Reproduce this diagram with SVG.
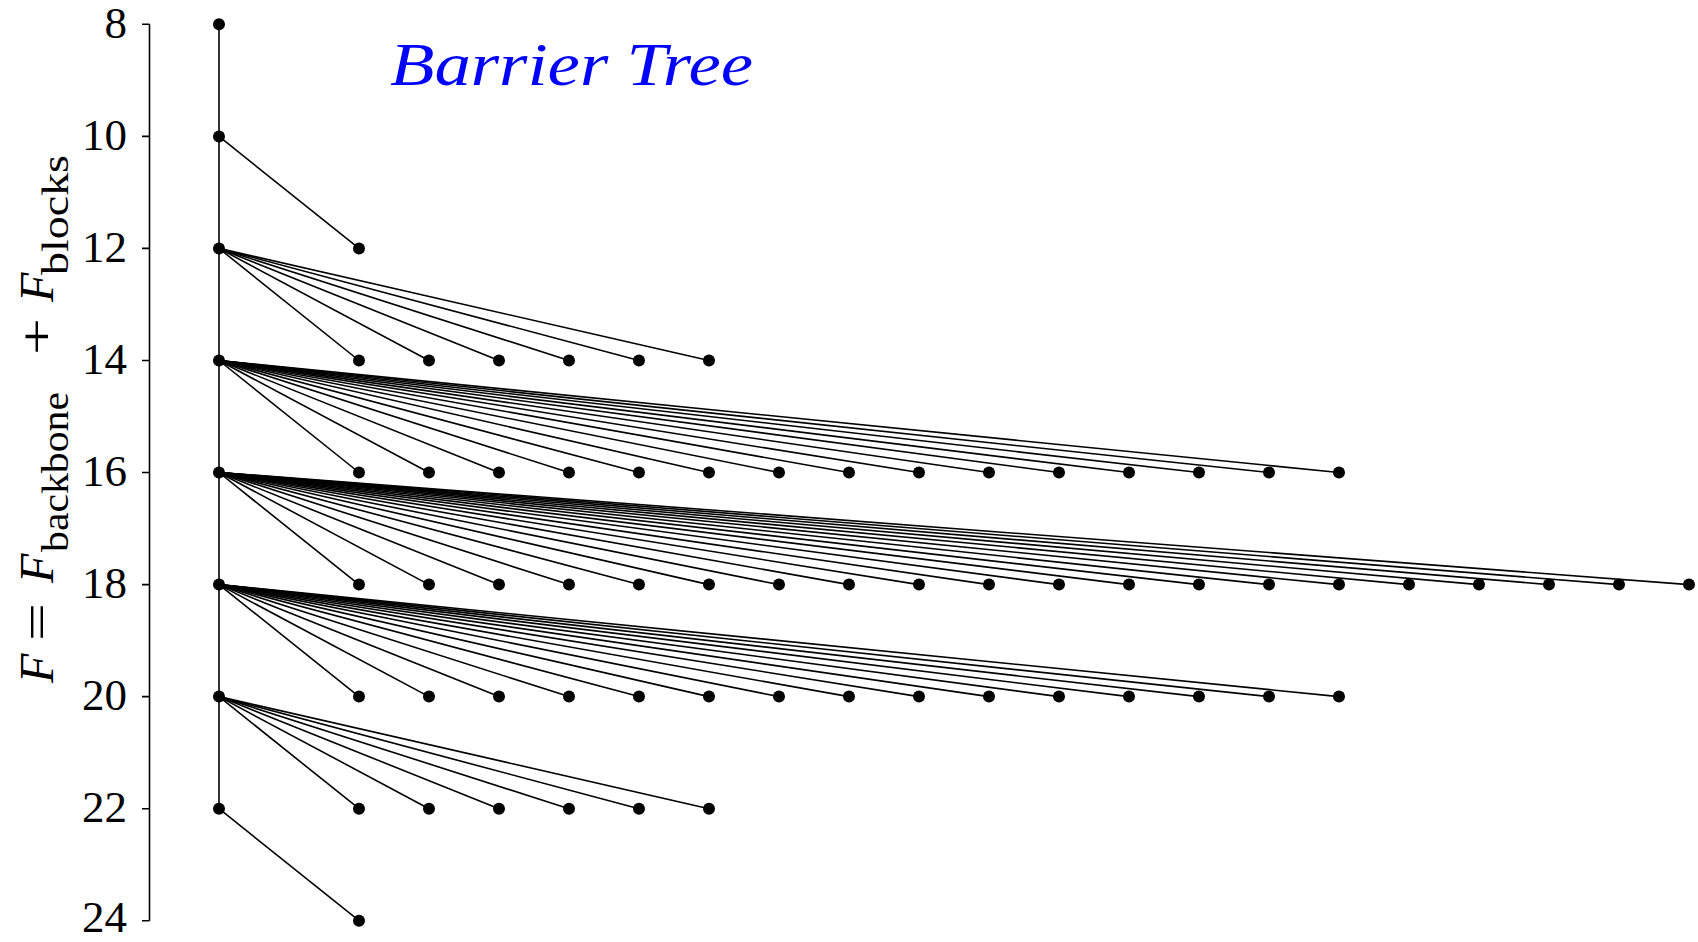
<svg xmlns="http://www.w3.org/2000/svg" width="1698" height="942" viewBox="0 0 1698 942">
<style>
.ax{stroke:#000;stroke-width:1.6;fill:none}
.e{stroke:#000;stroke-width:1.6}
.n{fill:#000}
.tk{font-family:"Liberation Serif",serif;font-size:45px;fill:#000;text-anchor:end}
.lb{font-family:"Liberation Serif",serif;font-size:48px;fill:#000}
.it{font-style:italic}
.sub{font-size:37px}
.title{font-family:"Liberation Serif",serif;font-style:italic;font-size:62px;fill:#0000ff}
</style>
<rect width="1698" height="942" fill="#fff"/>
<g id="axis">
<path class="ax" d="M149.5 24.3V920.7M142 24.3H149.5M142 136.4H149.5M142 248.4H149.5M142 360.5H149.5M142 472.5H149.5M142 584.6H149.5M142 696.6H149.5M142 808.7H149.5M142 920.7H149.5"/>
<text class="tk" x="127" y="38">8</text>
<text class="tk" x="127" y="150">10</text>
<text class="tk" x="127" y="262">12</text>
<text class="tk" x="127" y="374">14</text>
<text class="tk" x="127" y="486">16</text>
<text class="tk" x="127" y="598">18</text>
<text class="tk" x="127" y="710">20</text>
<text class="tk" x="127" y="822">22</text>
<text class="tk" x="127" y="932">24</text>
</g>
<text class="lb" transform="translate(53,683) rotate(-90)"><tspan class="it" x="0" y="0">F</tspan><tspan x="42" y="0" textLength="38" lengthAdjust="spacingAndGlyphs">=</tspan><tspan class="it" x="100" y="0">F</tspan><tspan class="sub" x="131" y="15" textLength="160" lengthAdjust="spacingAndGlyphs">backbone</tspan><tspan x="328" y="0" textLength="37" lengthAdjust="spacingAndGlyphs">+</tspan><tspan class="it" x="381" y="0">F</tspan><tspan class="sub" x="408" y="15" textLength="120" lengthAdjust="spacingAndGlyphs">blocks</tspan></text>
<text class="title" x="390" y="85" textLength="363" lengthAdjust="spacingAndGlyphs">Barrier Tree</text>
<g id="connectors">
<line class="e" x1="219" y1="24.3" x2="219" y2="808.7"/>
<line class="e" x1="219" y1="136.4" x2="359" y2="248.4"/>
<line class="e" x1="219" y1="248.4" x2="359" y2="360.5"/>
<line class="e" x1="219" y1="248.4" x2="429" y2="360.5"/>
<line class="e" x1="219" y1="248.4" x2="499" y2="360.5"/>
<line class="e" x1="219" y1="248.4" x2="569" y2="360.5"/>
<line class="e" x1="219" y1="248.4" x2="639" y2="360.5"/>
<line class="e" x1="219" y1="248.4" x2="709" y2="360.5"/>
<line class="e" x1="219" y1="360.5" x2="359" y2="472.5"/>
<line class="e" x1="219" y1="360.5" x2="429" y2="472.5"/>
<line class="e" x1="219" y1="360.5" x2="499" y2="472.5"/>
<line class="e" x1="219" y1="360.5" x2="569" y2="472.5"/>
<line class="e" x1="219" y1="360.5" x2="639" y2="472.5"/>
<line class="e" x1="219" y1="360.5" x2="709" y2="472.5"/>
<line class="e" x1="219" y1="360.5" x2="779" y2="472.5"/>
<line class="e" x1="219" y1="360.5" x2="849" y2="472.5"/>
<line class="e" x1="219" y1="360.5" x2="919" y2="472.5"/>
<line class="e" x1="219" y1="360.5" x2="989" y2="472.5"/>
<line class="e" x1="219" y1="360.5" x2="1059" y2="472.5"/>
<line class="e" x1="219" y1="360.5" x2="1129" y2="472.5"/>
<line class="e" x1="219" y1="360.5" x2="1199" y2="472.5"/>
<line class="e" x1="219" y1="360.5" x2="1269" y2="472.5"/>
<line class="e" x1="219" y1="360.5" x2="1339" y2="472.5"/>
<line class="e" x1="219" y1="472.5" x2="359" y2="584.6"/>
<line class="e" x1="219" y1="472.5" x2="429" y2="584.6"/>
<line class="e" x1="219" y1="472.5" x2="499" y2="584.6"/>
<line class="e" x1="219" y1="472.5" x2="569" y2="584.6"/>
<line class="e" x1="219" y1="472.5" x2="639" y2="584.6"/>
<line class="e" x1="219" y1="472.5" x2="709" y2="584.6"/>
<line class="e" x1="219" y1="472.5" x2="779" y2="584.6"/>
<line class="e" x1="219" y1="472.5" x2="849" y2="584.6"/>
<line class="e" x1="219" y1="472.5" x2="919" y2="584.6"/>
<line class="e" x1="219" y1="472.5" x2="989" y2="584.6"/>
<line class="e" x1="219" y1="472.5" x2="1059" y2="584.6"/>
<line class="e" x1="219" y1="472.5" x2="1129" y2="584.6"/>
<line class="e" x1="219" y1="472.5" x2="1199" y2="584.6"/>
<line class="e" x1="219" y1="472.5" x2="1269" y2="584.6"/>
<line class="e" x1="219" y1="472.5" x2="1339" y2="584.6"/>
<line class="e" x1="219" y1="472.5" x2="1409" y2="584.6"/>
<line class="e" x1="219" y1="472.5" x2="1479" y2="584.6"/>
<line class="e" x1="219" y1="472.5" x2="1549" y2="584.6"/>
<line class="e" x1="219" y1="472.5" x2="1619" y2="584.6"/>
<line class="e" x1="219" y1="472.5" x2="1689" y2="584.6"/>
<line class="e" x1="219" y1="584.6" x2="359" y2="696.6"/>
<line class="e" x1="219" y1="584.6" x2="429" y2="696.6"/>
<line class="e" x1="219" y1="584.6" x2="499" y2="696.6"/>
<line class="e" x1="219" y1="584.6" x2="569" y2="696.6"/>
<line class="e" x1="219" y1="584.6" x2="639" y2="696.6"/>
<line class="e" x1="219" y1="584.6" x2="709" y2="696.6"/>
<line class="e" x1="219" y1="584.6" x2="779" y2="696.6"/>
<line class="e" x1="219" y1="584.6" x2="849" y2="696.6"/>
<line class="e" x1="219" y1="584.6" x2="919" y2="696.6"/>
<line class="e" x1="219" y1="584.6" x2="989" y2="696.6"/>
<line class="e" x1="219" y1="584.6" x2="1059" y2="696.6"/>
<line class="e" x1="219" y1="584.6" x2="1129" y2="696.6"/>
<line class="e" x1="219" y1="584.6" x2="1199" y2="696.6"/>
<line class="e" x1="219" y1="584.6" x2="1269" y2="696.6"/>
<line class="e" x1="219" y1="584.6" x2="1339" y2="696.6"/>
<line class="e" x1="219" y1="696.6" x2="359" y2="808.7"/>
<line class="e" x1="219" y1="696.6" x2="429" y2="808.7"/>
<line class="e" x1="219" y1="696.6" x2="499" y2="808.7"/>
<line class="e" x1="219" y1="696.6" x2="569" y2="808.7"/>
<line class="e" x1="219" y1="696.6" x2="639" y2="808.7"/>
<line class="e" x1="219" y1="696.6" x2="709" y2="808.7"/>
<line class="e" x1="219" y1="808.7" x2="359" y2="920.7"/>
</g>
<g id="m8"><circle class="n" cx="219" cy="24.3" r="6"/></g>
<g id="m10"><circle class="n" cx="219" cy="136.4" r="6"/></g>
<g id="m12"><circle class="n" cx="219" cy="248.4" r="6"/></g>
<g id="m14"><circle class="n" cx="219" cy="360.5" r="6"/></g>
<g id="m16"><circle class="n" cx="219" cy="472.5" r="6"/></g>
<g id="m18"><circle class="n" cx="219" cy="584.6" r="6"/></g>
<g id="m20"><circle class="n" cx="219" cy="696.6" r="6"/></g>
<g id="m22"><circle class="n" cx="219" cy="808.7" r="6"/></g>
<g id="n12_1"><circle class="n" cx="359" cy="248.4" r="6"/></g>
<g id="n14_1"><circle class="n" cx="359" cy="360.5" r="6"/></g>
<g id="n14_2"><circle class="n" cx="429" cy="360.5" r="6"/></g>
<g id="n14_3"><circle class="n" cx="499" cy="360.5" r="6"/></g>
<g id="n14_4"><circle class="n" cx="569" cy="360.5" r="6"/></g>
<g id="n14_5"><circle class="n" cx="639" cy="360.5" r="6"/></g>
<g id="n14_6"><circle class="n" cx="709" cy="360.5" r="6"/></g>
<g id="n16_1"><circle class="n" cx="359" cy="472.5" r="6"/></g>
<g id="n16_2"><circle class="n" cx="429" cy="472.5" r="6"/></g>
<g id="n16_3"><circle class="n" cx="499" cy="472.5" r="6"/></g>
<g id="n16_4"><circle class="n" cx="569" cy="472.5" r="6"/></g>
<g id="n16_5"><circle class="n" cx="639" cy="472.5" r="6"/></g>
<g id="n16_6"><circle class="n" cx="709" cy="472.5" r="6"/></g>
<g id="n16_7"><circle class="n" cx="779" cy="472.5" r="6"/></g>
<g id="n16_8"><circle class="n" cx="849" cy="472.5" r="6"/></g>
<g id="n16_9"><circle class="n" cx="919" cy="472.5" r="6"/></g>
<g id="n16_10"><circle class="n" cx="989" cy="472.5" r="6"/></g>
<g id="n16_11"><circle class="n" cx="1059" cy="472.5" r="6"/></g>
<g id="n16_12"><circle class="n" cx="1129" cy="472.5" r="6"/></g>
<g id="n16_13"><circle class="n" cx="1199" cy="472.5" r="6"/></g>
<g id="n16_14"><circle class="n" cx="1269" cy="472.5" r="6"/></g>
<g id="n16_15"><circle class="n" cx="1339" cy="472.5" r="6"/></g>
<g id="n18_1"><circle class="n" cx="359" cy="584.6" r="6"/></g>
<g id="n18_2"><circle class="n" cx="429" cy="584.6" r="6"/></g>
<g id="n18_3"><circle class="n" cx="499" cy="584.6" r="6"/></g>
<g id="n18_4"><circle class="n" cx="569" cy="584.6" r="6"/></g>
<g id="n18_5"><circle class="n" cx="639" cy="584.6" r="6"/></g>
<g id="n18_6"><circle class="n" cx="709" cy="584.6" r="6"/></g>
<g id="n18_7"><circle class="n" cx="779" cy="584.6" r="6"/></g>
<g id="n18_8"><circle class="n" cx="849" cy="584.6" r="6"/></g>
<g id="n18_9"><circle class="n" cx="919" cy="584.6" r="6"/></g>
<g id="n18_10"><circle class="n" cx="989" cy="584.6" r="6"/></g>
<g id="n18_11"><circle class="n" cx="1059" cy="584.6" r="6"/></g>
<g id="n18_12"><circle class="n" cx="1129" cy="584.6" r="6"/></g>
<g id="n18_13"><circle class="n" cx="1199" cy="584.6" r="6"/></g>
<g id="n18_14"><circle class="n" cx="1269" cy="584.6" r="6"/></g>
<g id="n18_15"><circle class="n" cx="1339" cy="584.6" r="6"/></g>
<g id="n18_16"><circle class="n" cx="1409" cy="584.6" r="6"/></g>
<g id="n18_17"><circle class="n" cx="1479" cy="584.6" r="6"/></g>
<g id="n18_18"><circle class="n" cx="1549" cy="584.6" r="6"/></g>
<g id="n18_19"><circle class="n" cx="1619" cy="584.6" r="6"/></g>
<g id="n18_20"><circle class="n" cx="1689" cy="584.6" r="6"/></g>
<g id="n20_1"><circle class="n" cx="359" cy="696.6" r="6"/></g>
<g id="n20_2"><circle class="n" cx="429" cy="696.6" r="6"/></g>
<g id="n20_3"><circle class="n" cx="499" cy="696.6" r="6"/></g>
<g id="n20_4"><circle class="n" cx="569" cy="696.6" r="6"/></g>
<g id="n20_5"><circle class="n" cx="639" cy="696.6" r="6"/></g>
<g id="n20_6"><circle class="n" cx="709" cy="696.6" r="6"/></g>
<g id="n20_7"><circle class="n" cx="779" cy="696.6" r="6"/></g>
<g id="n20_8"><circle class="n" cx="849" cy="696.6" r="6"/></g>
<g id="n20_9"><circle class="n" cx="919" cy="696.6" r="6"/></g>
<g id="n20_10"><circle class="n" cx="989" cy="696.6" r="6"/></g>
<g id="n20_11"><circle class="n" cx="1059" cy="696.6" r="6"/></g>
<g id="n20_12"><circle class="n" cx="1129" cy="696.6" r="6"/></g>
<g id="n20_13"><circle class="n" cx="1199" cy="696.6" r="6"/></g>
<g id="n20_14"><circle class="n" cx="1269" cy="696.6" r="6"/></g>
<g id="n20_15"><circle class="n" cx="1339" cy="696.6" r="6"/></g>
<g id="n22_1"><circle class="n" cx="359" cy="808.7" r="6"/></g>
<g id="n22_2"><circle class="n" cx="429" cy="808.7" r="6"/></g>
<g id="n22_3"><circle class="n" cx="499" cy="808.7" r="6"/></g>
<g id="n22_4"><circle class="n" cx="569" cy="808.7" r="6"/></g>
<g id="n22_5"><circle class="n" cx="639" cy="808.7" r="6"/></g>
<g id="n22_6"><circle class="n" cx="709" cy="808.7" r="6"/></g>
<g id="n24_1"><circle class="n" cx="359" cy="920.7" r="6"/></g>
</svg>
